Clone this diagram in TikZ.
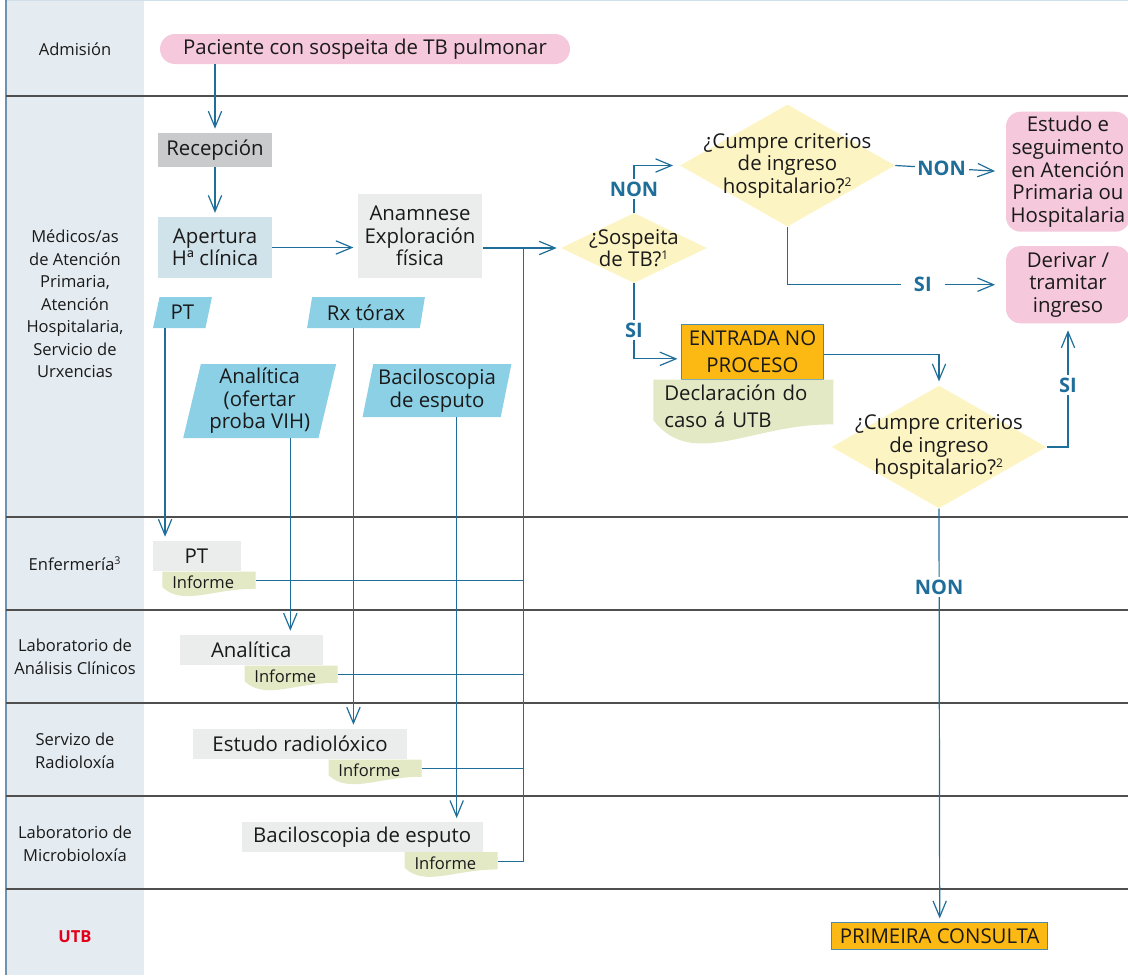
\documentclass[tikz,border=0pt]{standalone}
\usepackage{fontspec}
\setmainfont{Open Sans}
\usetikzlibrary{positioning,shapes.geometric,arrows.meta,calc}

\definecolor{lanebg}{HTML}{E4ECF2}
\definecolor{laneedge}{HTML}{6F93AE}
\definecolor{lanetop}{HTML}{CFE0EA}
\definecolor{sepgrey}{HTML}{4F4F4F}
\definecolor{flow}{HTML}{1F6E99}
\definecolor{pinkfill}{HTML}{F5C8DC}
\definecolor{recgrey}{HTML}{C9CACB}
\definecolor{paleblue}{HTML}{D0E2EA}
\definecolor{lightgrey}{HTML}{EBECEC}
\definecolor{qyellow}{HTML}{FDF4C3}
\definecolor{datablue}{HTML}{8CD0E6}
\definecolor{orangefill}{HTML}{FCB813}
\definecolor{docgreen}{HTML}{E3E8C5}
\definecolor{utbred}{HTML}{E2001A}
\definecolor{ink}{HTML}{1A1A1A}

\newcommand{\flowfont}{\fontsize{15.3}{16.9}\selectfont}
\newcommand{\lanefont}{\fontsize{12.4}{16.9}\selectfont}
\newcommand{\reportfont}{\fontsize{12.4}{14}\selectfont}
\newcommand{\answerfont}{\fontsize{15}{15}\selectfont\bfseries}
\newcommand{\supmark}[2]{\textsuperscript{\fontsize{#1}{#1}\selectfont #2}}

\tikzset{
  lanelabel/.style = {align = center, font = \lanefont, text = ink},
  laneline/.style = {draw = sepgrey, line width = 1.1pt},
  flowbox/.style = {inner sep = 0pt, align = center, font = \flowfont, text = ink},
  greybox/.style = {flowbox, fill = lightgrey},
  pinkbox/.style = {flowbox, fill = pinkfill, rounded corners = 11pt},
  keybox/.style = {flowbox, fill = orangefill, draw = flow!80, line width = 0.6pt},
  databox/.style = {flowbox, trapezium, trapezium left angle = 77, trapezium right angle = 103,
                    trapezium stretches = true, fill = datablue},
  qdiamond/.style = {diamond, fill = qyellow, inner sep = 0pt},
  qtext/.style = {align = center, font = \flowfont, text = ink, inner sep = 0pt},
  docbox/.style = {flowbox, align = left, path picture = {
      \fill[docgreen] let \p1 = (path picture bounding box.south west),
                          \p2 = (path picture bounding box.north east) in
        (\x1,\y2) -- (\x2,\y2) -- (\x2,{\y1+0.36*(\y2-\y1)})
        .. controls ({\x1+0.55*(\x2-\x1)},{\y1+0.38*(\y2-\y1)})
                and ({\x1+0.22*(\x2-\x1)},{\y1-0.30*(\y2-\y1)})
        .. (\x1,{\y1+0.42*(\y2-\y1)}) -- cycle;}},
  report/.style = {docbox, font = \reportfont, text width = 55pt, inner xsep = 7.4pt,
                   text height = 12.75pt, text depth = 7.5pt},
  flowline/.style = {draw = flow, line width = 0.9pt},
  flowarrow/.style = {flowline, -{Straight Barb[length = 12pt, width = 10pt, line width = 0.9pt]},
                      shorten >= 3pt},
  answer/.style = {fill = white, text = flow, font = \answerfont, inner sep = 2pt}
}

\begin{document}
\begin{tikzpicture}[x = 0.75pt, y = -0.75pt]
  \useasboundingbox (0,0) rectangle (1128,975);

  % lanes
  \fill[lanebg] (6,0) rectangle (144,975);
  \draw[lanetop, line width = 1pt] (6,0.7) -- (1128,0.7);
  \draw[laneedge, line width = 1pt] (6,0) -- (6,975);
  \draw[laneline] (6,96) -- (1128,96);
  \draw[laneline] (6,517) -- (1128,517);
  \draw[laneline] (6,610) -- (1128,610);
  \draw[laneline] (6,703) -- (1128,703);
  \draw[laneline] (6,796) -- (1128,796);
  \draw[laneline] (6,889) -- (1128,889);

  \node[lanelabel] (admision) at (75,49) {Admisión};
  \node[lanelabel] (medicos) at (75,304) {Médicos/as\\de Atención\\Primaria,\\Atención\\Hospitalaria,\\Servicio de\\Urxencias};
  \node[lanelabel] (enfermeria) at (75,564) {Enfermería\supmark{8}{3}};
  \node[lanelabel] (labclinico) at (75,657) {Laboratorio de\\Análisis Clínicos};
  \node[lanelabel] (radioloxia) at (75,751) {Servizo de\\Radioloxía};
  \node[lanelabel] (microbio) at (75,844) {Laboratorio de\\Microbioloxía};
  \node[lanelabel, text = utbred, font = \lanefont\bfseries] (utb) at (75,937) {UTB};

  % medical lane
  \node[pinkbox, rounded corners = 11.25pt, minimum width = 307.5pt, minimum height = 22.5pt]
    (paciente) at (365,49) {Paciente con sospeita de TB pulmonar};
  \node[flowbox, fill = recgrey, minimum width = 85.5pt, minimum height = 25.5pt]
    (recepcion) at (215,150) {Recepción};
  \node[flowbox, fill = paleblue, minimum width = 85.5pt, minimum height = 45.5pt]
    (apertura) at (215,247.5) {Apertura\\Hª clínica};
  \node[greybox, minimum width = 93.5pt, minimum height = 63pt]
    (anamnese) at (420,236) {Anamnese\\Exploración\\física};

  \node[qdiamond, minimum width = 109.5pt, minimum height = 52.5pt,
        label = {[qtext]center:{¿Sospeita\\de TB?\supmark{9}{1}}}] (sospeita) at (634,248) {};
  \node[qdiamond, minimum width = 161.25pt, minimum height = 91.5pt,
        label = {[qtext]center:{¿Cumpre criterios\\de ingreso\\hospitalario?\supmark{9}{2}}}] (ingresoA) at (787.5,165.5) {};
  \node[pinkbox, minimum width = 93pt, minimum height = 90pt]
    (estudo) at (1068,171.7) {Estudo e\\seguimento\\en Atención\\Primaria ou\\Hospitalaria};
  \node[pinkbox, minimum width = 93pt, minimum height = 58pt]
    (derivar) at (1068,284.7) {Derivar /\\tramitar\\ingreso};

  \node[keybox, font = \fontsize{15.3}{20}\selectfont, minimum width = 106pt, minimum height = 41.25pt]
    (entrada) at (752.5,351.5) {ENTRADA NO\\PROCESO};
  \node[docbox, font = \fontsize{15.3}{20.25}\selectfont, text width = 118.5pt, inner xsep = 8.25pt,
        text height = 15.5pt, text depth = 37pt, below left = 0pt and -7.5pt of entrada.south east]
    (declaracion) {Declaración do\\caso á UTB};
  \node[qdiamond, minimum width = 161pt, minimum height = 92pt,
        label = {[qtext]center:{¿Cumpre criterios\\de ingreso\\hospitalario?\supmark{9}{2}}}] (ingresoB) at (939,447) {};

  \node[databox, minimum width = 44.25pt, minimum height = 23.25pt] (ptin) at (182.5,312.5) {PT};
  \node[databox, minimum width = 88.5pt, minimum height = 23.25pt] (rxin) at (366,312.5) {Rx tórax};
  \node[databox, minimum width = 115.5pt, minimum height = 55.5pt]
    (analin) at (259.7,401) {Analítica\\(ofertar\\proba VIH)};
  \node[databox, minimum width = 111.75pt, minimum height = 39.75pt]
    (bacin) at (437,390.5) {Baciloscopia\\de esputo};

  % service lanes
  \node[greybox, minimum width = 66pt, minimum height = 22.5pt] (ptbox) at (196.5,556) {PT};
  \node[report, below left = 0pt and -11.25pt of ptbox.south east] (inf1) {Informe};
  \node[greybox, minimum width = 107pt, minimum height = 22.5pt] (analbox) at (251.3,650) {Analítica};
  \node[report, below left = 0pt and -11.25pt of analbox.south east] (inf2) {Informe};
  \node[greybox, minimum width = 160pt, minimum height = 22.5pt] (radbox) at (300,744) {Estudo radiolóxico};
  \node[report, below left = 0pt and -11.25pt of radbox.south east] (inf3) {Informe};
  \node[greybox, minimum width = 180.75pt, minimum height = 22pt] (bacbox) at (362.2,837) {Baciloscopia de esputo};
  \node[report, below left = 0pt and -11.25pt of bacbox.south east] (inf4) {Informe};

  \node[keybox, minimum width = 162pt, minimum height = 19.75pt] (primeira) at (939.7,936) {PRIMEIRA CONSULTA};

  % connectors
  \coordinate (bustop) at (523.3,248);
  \coordinate (ptdrop) at ([xshift = 9.3pt]ptin.bottom left corner);
  \coordinate (rxdrop) at ([xshift = 35pt]rxin.bottom left corner);
  \coordinate (analdrop) at ([xshift = -21.3pt]analin.bottom right corner);
  \coordinate (bacdrop) at ([xshift = -33.2pt]bacin.bottom right corner);

  \draw[flowarrow] (recepcion |- paciente.south) -- (recepcion.north);
  \draw[flowarrow] (recepcion) -- (apertura);
  \draw[flowarrow] (apertura.east) -- (apertura.east -| anamnese.west);
  \draw[flowarrow] (anamnese.east |- sospeita.west) -- (sospeita.west);

  \draw[flowline] ([yshift = -7pt]inf4.north east) -| (bustop);
  \draw[flowline] ([yshift = -7pt]inf1.north east) -- ([yshift = -7pt]inf1.north east -| bustop);
  \draw[flowline] ([yshift = -7pt]inf2.north east) -- ([yshift = -7pt]inf2.north east -| bustop);
  \draw[flowline] ([yshift = -7pt]inf3.north east) -- ([yshift = -7pt]inf3.north east -| bustop);

  \draw[flowarrow] (ptdrop) -- (ptdrop |- ptbox.north);
  \draw[flowarrow] (analdrop) -- (analdrop |- analbox.north);
  \draw[flowarrow] (rxdrop) -- (rxdrop |- radbox.north);
  \draw[flowarrow] (bacdrop) -- (bacdrop |- bacbox.north);

  \draw[flowarrow, shorten >= 5pt] (sospeita.north) |- node[answer, pos = 0.25] {NON} (ingresoA.west);
  \draw[flowarrow, shorten >= 8pt] (ingresoA.east) -- node[answer, pos = 0.42] {NON} (estudo.west);
  \draw[flowarrow, shorten >= 8pt] (ingresoA.south) |- node[answer, pos = 0.81, inner xsep = 10pt] {SI} (derivar.west);
  \draw[flowarrow] (sospeita.south) |- node[answer, pos = 0.31] {SI} ([yshift = -5.5pt]entrada.west);
  \draw[flowarrow] ([yshift = -2.5pt]entrada.east) -| (ingresoB.north);
  \draw[flowarrow, shorten >= 5pt] (ingresoB.east) -| node[answer, pos = 0.75] {SI} (derivar.south);
  \draw[flowarrow] (ingresoB.south) -- node[answer, pos = 0.19] {NON} (primeira.north);
\end{tikzpicture}
\end{document}
